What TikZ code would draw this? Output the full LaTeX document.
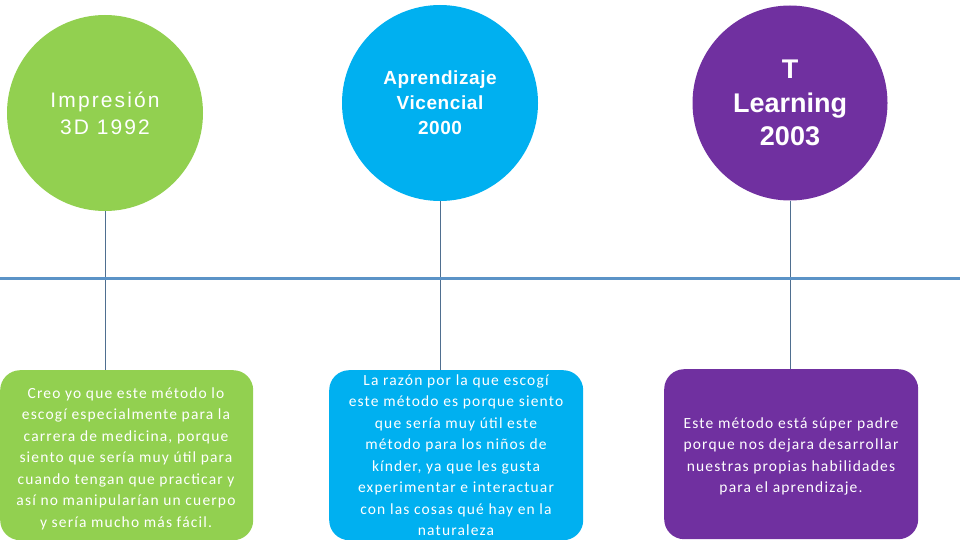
\documentclass[tikz,border=0pt]{standalone}
\usepackage{fontspec}
\setmainfont{Liberation Sans}
\newfontfamily\boxfont[LetterSpace=7.5]{Carlito}
\newfontfamily\wideA[LetterSpace=10]{Liberation Sans}
\newfontfamily\wideB[LetterSpace=3]{Liberation Sans}
\definecolor{cgreen}{HTML}{92D050}
\definecolor{cblue}{HTML}{00B0F0}
\definecolor{cpurple}{HTML}{7030A0}
\definecolor{axisblue}{HTML}{5B93C7}
\definecolor{stemblue}{HTML}{4F6F90}
\begin{document}
\begin{tikzpicture}[x=1pt,y=-1pt,
  bubble/.style={circle,minimum size=196pt,inner sep=0pt,text=white,align=center},
  note/.style={rounded corners=20pt,minimum width=254pt,minimum height=170pt,inner sep=0pt,anchor=north west},
  notetext/.style={text=white,align=center,font=\boxfont\fontsize{15.5}{21.5}\selectfont,anchor=north},
  stem/.style={draw=stemblue,line width=0.9pt},
  axis/.style={draw=axisblue,line width=3pt}]
\useasboundingbox (0,0) rectangle (960,540);
% bubbles
\node[bubble,fill=cgreen,font=\wideA\fontsize{21}{27}\selectfont] (c1) at (105,113) {Impresión\\3D 1992};
\node[bubble,fill=cblue,font=\wideB\bfseries\fontsize{19}{25}\selectfont] (c2) at (440,103) {Aprendizaje\\Vicencial\\2000};
\node[bubble,fill=cpurple,minimum size=195pt,font=\bfseries\fontsize{27}{33.5}\selectfont] (c3) at (790,103) {T\\Learning\\2003};
% boxes
\node[note,fill=cgreen,minimum width=253pt] (b1) at (0,370) {};
\node[note,fill=cblue] (b2) at (329,370) {};
\node[note,fill=cpurple] (b3) at (664,369) {};
% box texts
\node[notetext] (t1) at (126,384) {Creo yo que este método lo\\escogí especialmente para la\\carrera de medicina, porque\\siento que sería muy útil para\\cuando tengan que practicar y\\así no manipularían un cuerpo\\y sería mucho más fácil.};
\node[notetext] (t2) at (456,371) {La razón por la que escogí\\este método es porque siento\\que sería muy útil este\\método para los niños de\\kínder, ya que les gusta\\experimentar e interactuar\\con las cosas qué hay en la\\naturaleza};
\node[notetext] (t3) at (791,414) {Este método está súper padre\\porque nos dejara desarrollar\\nuestras propias habilidades\\para el aprendizaje.};
% stems
\draw[stem] (c1.south) -- (b1.north -| c1.south);
\draw[stem] (c2.south) -- (b2.north -| c2.south);
\draw[stem] (c3.south) -- (b3.north -| c3.south);
% axis
\coordinate (axl) at (0,278);
\coordinate (axr) at (960,278);
\draw[axis] (axl) -- (axr);
\end{tikzpicture}
\end{document}
